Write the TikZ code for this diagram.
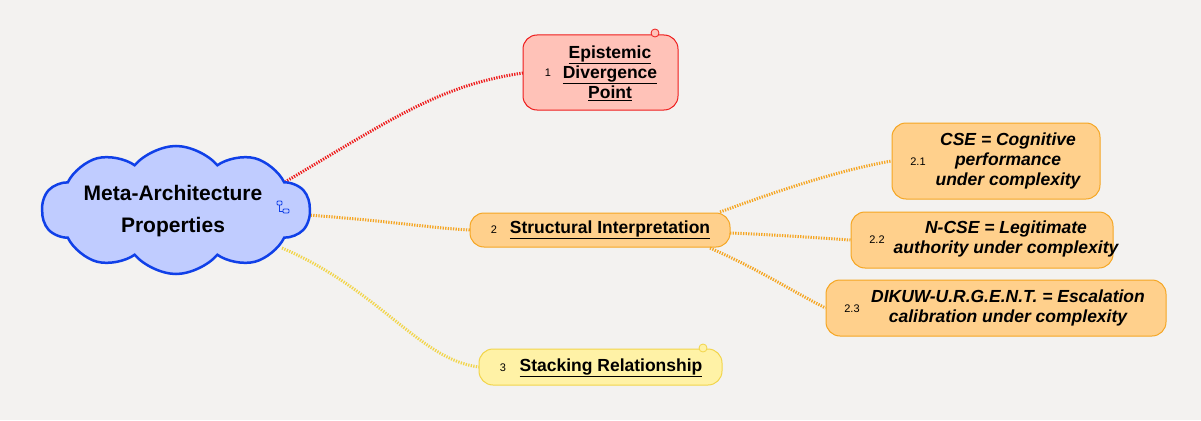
\documentclass[tikz,border=0pt]{standalone}
\usepackage{fontspec}
\setmainfont{Liberation Sans}
\usetikzlibrary{shapes.symbols}
\definecolor{bg}{HTML}{F3F2F0}
\definecolor{redb}{HTML}{EE1C1C}
\definecolor{redf}{HTML}{FFC2B8}
\definecolor{orb}{HTML}{F5A623}
\definecolor{orf}{HTML}{FFD08C}
\definecolor{yeb}{HTML}{F2D54A}
\definecolor{yef}{HTML}{FFF2A6}
\definecolor{clb}{HTML}{1040E8}
\definecolor{clf}{HTML}{C0CCFF}
\tikzset{
 x=1pt,y=-1pt,
 box/.style={draw,rounded corners=14pt,line width=1pt,inner sep=0pt},
 conn/.style={line width=3pt,dash pattern=on 1.3pt off 1.3pt},
 num/.style={font=\fontsize{11}{12}\selectfont},
 lbl/.style={font=\fontsize{17.5}{20}\selectfont\bfseries,align=center},
 ilbl/.style={lbl,font=\fontsize{17.5}{20}\selectfont\bfseries\itshape},
}
\newcommand{\ul}[1]{\underline{#1}}
\begin{document}
\begin{tikzpicture}
\fill[bg] (0,0) rectangle (1201,420);
\useasboundingbox (0,0) rectangle (1201,420);
\coordinate (cr) at (285,182);
\coordinate (co) at (308,215);
\coordinate (cy) at (282,248);
\draw[conn,redb] (cr) .. controls (390,120) and (440,85) .. (523,73);
\draw[conn,orb] (co) .. controls (400,222) and (430,228) .. (470,230);
\draw[conn,yeb] (cy) .. controls (380,290) and (420,360) .. (479,367);
\node[cloud,cloud puffs=10,cloud puff arc=100,aspect=2.4,draw=clb,fill=clf,line width=2.5pt,minimum width=268,minimum height=128,inner sep=0] (root) at (176,210) {};
\node[font=\fontsize{21}{32}\selectfont\bfseries,align=center] (rt) at (173,211) {Meta-Architecture\\Properties};
\coordinate (ic) at (282,208);
\draw[clb,line width=0.8pt,rounded corners=1pt] ([shift={(-5,-7)}]ic) rectangle ++(5,4) ([shift={(1,1)}]ic) rectangle ++(6,4);
\draw[clb,line width=0.8pt] ([shift={(-3,-3)}]ic) |- ([shift={(1,3)}]ic);
\node[box,draw=redb,fill=redf,minimum width=155,minimum height=75] (n1) at (600.5,72.5) {};
\node[num] (l1) at (548,73) {1};
\node[lbl] (t1) at (610,73) {\ul{Epistemic}\\\ul{Divergence}\\\ul{Point}};
\draw[redb,fill=redf,line width=0.8pt] (655,33) circle (4);
\node[box,draw=orb,fill=orf,minimum width=260,minimum height=34] (n2) at (600,230) {};
\node[num] (l2) at (494,230) {2};
\node[lbl] (t2) at (610,230) {\ul{Structural Interpretation}};
\node[box,draw=yeb,fill=yef,minimum width=243,minimum height=36] (n3) at (600.5,367) {};
\node[num] (l3) at (503,368) {3};
\node[lbl] (t3) at (611,368) {\ul{Stacking Relationship}};
\draw[yeb,fill=yef,line width=0.8pt] (703,348) circle (4);
\node[box,draw=orb,fill=orf,minimum width=208,minimum height=76] (n21) at (996,161) {};
\node[num] (l21) at (918,162) {2.1};
\node[ilbl] (t21) at (1008,161) {CSE = Cognitive\\performance\\under complexity};
\node[box,draw=orb,fill=orf,minimum width=262,minimum height=56] (n22) at (982,240) {};
\node[num] (l22) at (877,240) {2.2};
\node[ilbl] (t22) at (1006,239) {N-CSE = Legitimate\\authority under complexity};
\node[box,draw=orb,fill=orf,minimum width=340,minimum height=56] (n23) at (996,308) {};
\node[num] (l23) at (852,309) {2.3};
\node[ilbl] (t23) at (1008,308) {DIKUW-U.R.G.E.N.T. = Escalation\\calibration under complexity};
\draw[conn,orb] (720,212) .. controls (780,190) and (840,170) .. (n21.west);
\draw[conn,orb] (730,233) .. controls (780,235) and (820,238) .. (n22.west);
\draw[conn,orb] (710,248) .. controls (760,270) and (790,290) .. (n23.west);
\end{tikzpicture}
\end{document}
